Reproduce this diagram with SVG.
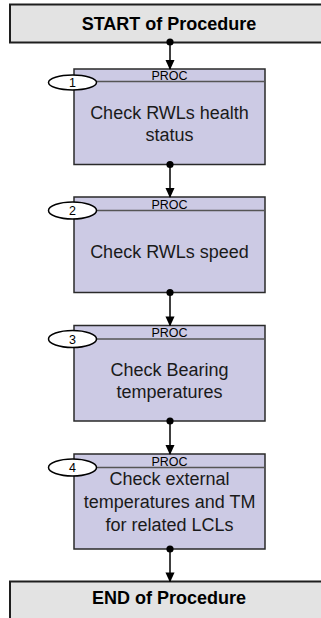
<svg xmlns="http://www.w3.org/2000/svg" width="321" height="618" viewBox="0 0 321 618">
<style>
.term{fill:#e3e3e3;stroke:#1e1e1e;stroke-width:2}
.termt{font-family:"Liberation Sans",Arial,sans-serif;font-weight:bold;font-size:18px;fill:#000;text-anchor:middle}
.proc{fill:#cccae4;stroke:#2a2a2a;stroke-width:1.5}
.hdr{stroke:#555;stroke-width:1.5}
.hdrt{font-family:"Liberation Sans",Arial,sans-serif;font-size:12.5px;fill:#000;text-anchor:middle}
.body{font-family:"Liberation Sans",Arial,sans-serif;font-size:18px;fill:#1a1a1a;text-anchor:middle}
.num{fill:#fff;stroke:#000;stroke-width:1.5}
.numt{font-family:"Liberation Sans",Arial,sans-serif;font-size:12.5px;fill:#000;text-anchor:middle}
.conn{stroke:#000;stroke-width:1.5;fill:none}
.dot{fill:#000}
</style>
<defs>
<marker id="arr" markerWidth="10" markerHeight="11" refX="10" refY="5" orient="auto" markerUnits="userSpaceOnUse" viewBox="0 0 11 10">
<path d="M0,0 L11,5 L0,10 Z" fill="#000"/>
</marker>
</defs>
<g id="start">
<rect class="term" x="10" y="4.5" width="320" height="38"/>
<text class="termt" x="169" y="29.5">START of Procedure</text>
</g>
<g id="step1">
<rect class="proc" x="74" y="69" width="191" height="95.5"/>
<line class="hdr" x1="74" y1="81.5" x2="265" y2="81.5"/>
<text class="hdrt" x="169.5" y="80">PROC</text>
<text class="body" x="169.5" y="119">Check RWLs health</text>
<text class="body" x="169.5" y="141">status</text>
<ellipse class="num" cx="72.5" cy="82.5" rx="24" ry="7.5"/>
<text class="numt" x="72.5" y="87">1</text>
</g>
<g id="step2">
<rect class="proc" x="74" y="197" width="191" height="95.5"/>
<line class="hdr" x1="74" y1="210.5" x2="265" y2="210.5"/>
<text class="hdrt" x="169.5" y="208.5">PROC</text>
<text class="body" x="169.5" y="257.5">Check RWLs speed</text>
<ellipse class="num" cx="72.5" cy="210.5" rx="24" ry="8.5"/>
<text class="numt" x="72.5" y="215">2</text>
</g>
<g id="step3">
<rect class="proc" x="74" y="325.5" width="191" height="95.5"/>
<line class="hdr" x1="74" y1="339" x2="265" y2="339"/>
<text class="hdrt" x="169.5" y="337">PROC</text>
<text class="body" x="169.5" y="375.5">Check Bearing</text>
<text class="body" x="169.5" y="397.5">temperatures</text>
<ellipse class="num" cx="72.5" cy="339" rx="24" ry="8.5"/>
<text class="numt" x="72.5" y="343.5">3</text>
</g>
<g id="step4">
<rect class="proc" x="74" y="454" width="191" height="95"/>
<line class="hdr" x1="74" y1="467.5" x2="265" y2="467.5"/>
<text class="hdrt" x="169.5" y="465.5">PROC</text>
<text class="body" x="169.5" y="485">Check external</text>
<text class="body" x="169.5" y="508">temperatures and TM</text>
<text class="body" x="169.5" y="531">for related LCLs</text>
<ellipse class="num" cx="72.5" cy="467.5" rx="24" ry="8.5"/>
<text class="numt" x="72.5" y="472">4</text>
</g>
<g id="end">
<rect class="term" x="10" y="581.5" width="320" height="45"/>
<text class="termt" x="169" y="603.5">END of Procedure</text>
</g>
<g id="connectors">
<line class="conn" x1="170" y1="42" x2="170" y2="69" marker-end="url(#arr)"/>
<circle class="dot" cx="170" cy="42" r="3.6"/>
<line class="conn" x1="170" y1="164.5" x2="170" y2="197" marker-end="url(#arr)"/>
<circle class="dot" cx="170" cy="164.5" r="3.6"/>
<line class="conn" x1="170" y1="292.5" x2="170" y2="325.5" marker-end="url(#arr)"/>
<circle class="dot" cx="170" cy="292.5" r="3.6"/>
<line class="conn" x1="170" y1="421" x2="170" y2="454" marker-end="url(#arr)"/>
<circle class="dot" cx="170" cy="421" r="3.6"/>
<line class="conn" x1="170" y1="549" x2="170" y2="581.5" marker-end="url(#arr)"/>
<circle class="dot" cx="170" cy="549" r="3.6"/>
</g>
</svg>
